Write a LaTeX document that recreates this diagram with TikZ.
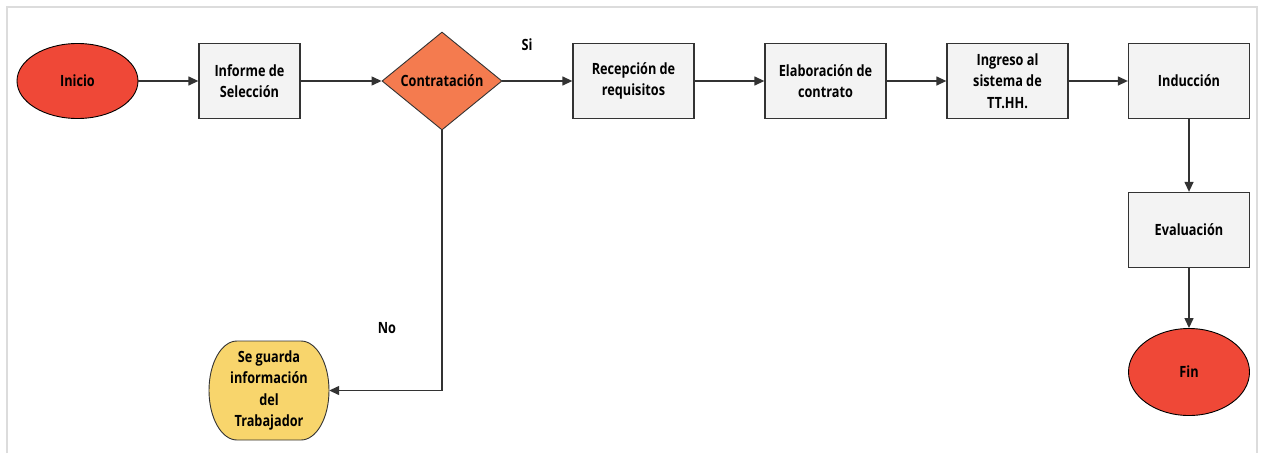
\documentclass[tikz,border=0pt]{standalone}
\usepackage{fontspec}
\setmainfont{Open Sans}[FakeStretch=0.82]
\usepackage{tikz}
\usetikzlibrary{shapes.geometric, arrows.meta, positioning}
\definecolor{termRed}{HTML}{EF4837}
\definecolor{decOrange}{HTML}{F47B4F}
\definecolor{storeYellow}{HTML}{F8D56C}
\definecolor{boxGray}{HTML}{F3F3F3}
\definecolor{lineGray}{HTML}{333333}
\definecolor{frameGray}{HTML}{DCDCDC}
\tikzset{
  txt/.style={font=\bfseries\fontsize{15.5}{21.5}\selectfont, text=black},
  proc/.style={rectangle, draw=lineGray, fill=boxGray, line width=1.3pt,
               minimum width=121pt, minimum height=75pt, inner sep=2pt,
               align=center, txt},
  term/.style={ellipse, draw=black, fill=termRed, line width=0.9pt,
               minimum width=121pt, minimum height=75pt, inner sep=0pt, txt},
  decis/.style={diamond, draw=lineGray, fill=decOrange, line width=0.9pt,
                aspect=1.22, minimum width=120pt, minimum height=98pt,
                inner sep=0pt, txt},
  store/.style={rectangle, minimum width=120pt, minimum height=99pt,
                inner sep=0pt, align=center, txt},
  storeline/.style={draw=lineGray, fill=storeYellow, line width=0.9pt},
  flow/.style={draw=lineGray, line width=1.3pt,
               -{Triangle[length=10pt, width=9pt]}},
  lbl/.style={txt},
}
\begin{document}
\begin{tikzpicture}[x=1pt, y=-1pt]
    \useasboundingbox (0,0) rectangle (1261,453);
    % open frame round the chart
    \draw[frameGray, line width=2pt] (6.5,453) -- (6.5,6.5) -- (1257,6.5) -- (1257,453);
    %% top row
    \node[term]  (inicio)  at (77.5,81)  {Inicio};
    \node[proc, minimum width=101pt] (informe) at (249.5,81) {Informe de\\Selección};
    \node[decis] (contrat) at (442,81)   {Contratación};
    \node[proc]  (recep)   at (633.5,81) {Recepción de\\requisitos};
    \node[proc]  (elab)    at (825.5,81) {Elaboración de\\contrato};
    \node[proc]  (ingreso) at (1007.5,81) {Ingreso al\\sistema de\\TT.HH.};
    \node[proc]  (induc)   at (1189,81)  {Inducción};
    %% right column
    \node[proc]  (evalua)  at (1189,230) {Evaluación};
    \node[term, minimum height=87pt] (fin) at (1189,372) {Fin};
    %% branch "No": stored record, sides are elliptic arcs
    \begin{scope}[shift={(269,390.5)}]
      \draw[storeline] (-32,-49.5) -- (32,-49.5)
        .. controls (47.5,-49.5) and (60,-27.3) .. (60,0)
        .. controls (60,27.3) and (47.5,49.5) .. (32,49.5) -- (-32,49.5)
        .. controls (-47.5,49.5) and (-60,27.3) .. (-60,0)
        .. controls (-60,-27.3) and (-47.5,-49.5) .. (-32,-49.5) -- cycle;
    \end{scope}
    \node[store] (guarda)  at (269,390.5) {Se guarda\\información\\del\\Trabajador};
    \coordinate (codo) at (contrat.south |- guarda.east);
    %% connectors
    \foreach \a/\b in {inicio/informe, informe/contrat, contrat/recep,
                       recep/elab, elab/ingreso, ingreso/induc,
                       induc/evalua, evalua/fin}{
      \draw[flow] (\a) -- (\b);
    }
    \draw[flow] (contrat.south) -- (codo) -- (guarda.east);
    %% labels
    \node[lbl] (si) at (527,45)  {Si};
    \node[lbl] (no) at (387,328) {No};
\end{tikzpicture}
\end{document}
